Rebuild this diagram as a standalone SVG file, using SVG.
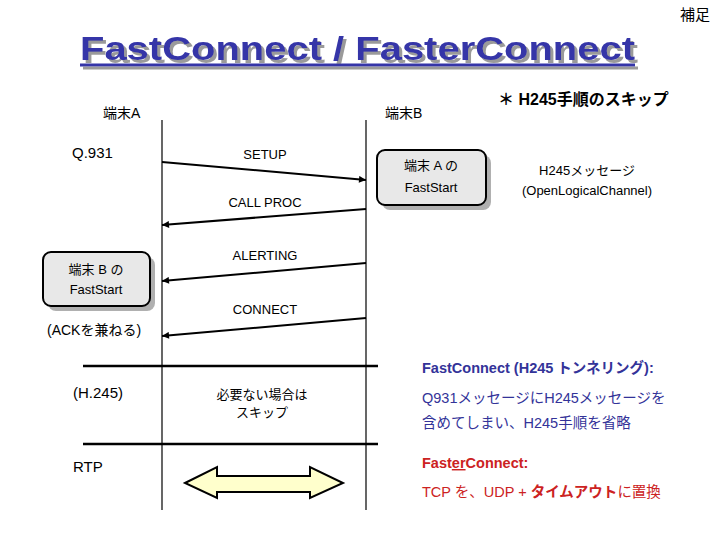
<svg xmlns="http://www.w3.org/2000/svg" width="720" height="540" viewBox="0 0 720 540">
<defs>
<style>
text{font-family:"Liberation Sans","Noto Sans CJK JP",sans-serif;fill:#000}
.t13{font-size:13px}
.t14{font-size:14px}
.t15{font-size:15px}
.c{text-anchor:middle}
.life{stroke:#000;stroke-width:1.2;fill:none}
.msg{stroke:#000;stroke-width:2;fill:none}
.sep{stroke:#000;stroke-width:2.5}
.box{fill:#e8e8e8;stroke:#000;stroke-width:2}
.shadow{fill:#b0b0b0}
.blue{fill:#333399}
.red{fill:#cc2222}
</style>
<filter id="tshadow" x="-5%" y="-20%" width="110%" height="150%">
<feOffset in="SourceAlpha" dx="3" dy="3" result="off"/>
<feFlood flood-color="#9a9a9a"/>
<feComposite in2="off" operator="in" result="sh"/>
<feMerge><feMergeNode in="sh"/><feMergeNode in="SourceGraphic"/></feMerge>
</filter>
<marker id="ah" viewBox="0 0 10 10" refX="10" refY="5" markerWidth="9" markerHeight="7" markerUnits="userSpaceOnUse" orient="auto">
<path d="M0,0 L10,5 L0,10 z" fill="#000"/>
</marker>
</defs>
<rect width="720" height="540" fill="#fff"/>

<g id="title" filter="url(#tshadow)">
<text x="80" y="60" font-size="34" font-weight="bold" textLength="555" lengthAdjust="spacingAndGlyphs" style="fill:#3535a8">FastConnect / FasterConnect</text>
<line x1="80" y1="65" x2="635" y2="65" stroke="#3535a8" stroke-width="3"/>
</g>

<g id="note"><text x="680" y="20" class="t15">補足</text></g>

<g id="lifelines">
<line class="life" x1="162" y1="120" x2="162" y2="510"/>
<line class="life" x1="366" y1="120" x2="366" y2="510"/>
<line class="sep" x1="83" y1="366" x2="378" y2="366"/>
<line class="sep" x1="83" y1="444" x2="378" y2="444"/>
</g>

<g id="terminalA"><text x="103" y="118" class="t14">端末A</text></g>
<g id="terminalB"><text x="385" y="118" class="t14">端末B</text></g>
<g id="q931"><text x="72" y="158" class="t15">Q.931</text></g>
<g id="h245label"><text x="73" y="398" class="t15">(H.245)</text></g>
<g id="rtp"><text x="73" y="472" class="t15">RTP</text></g>

<g id="connectors">
<line class="msg" x1="162" y1="162" x2="366" y2="180" marker-end="url(#ah)"/>
<line class="msg" x1="366" y1="209" x2="162" y2="225" marker-end="url(#ah)"/>
<line class="msg" x1="366" y1="263" x2="162" y2="281" marker-end="url(#ah)"/>
<line class="msg" x1="366" y1="318" x2="162" y2="336" marker-end="url(#ah)"/>
</g>

<g id="labels">
<text x="265" y="159" class="t13 c">SETUP</text>
<text x="265" y="207" class="t13 c">CALL PROC</text>
<text x="265" y="260" class="t13 c">ALERTING</text>
<text x="265" y="314" class="t13 c">CONNECT</text>
<text x="262" y="399" class="t13 c">必要ない場合は</text>
<text x="262" y="417" class="t13 c">スキップ</text>
</g>

<g id="boxA">
<rect class="shadow" x="382" y="155" width="109" height="55" rx="8"/>
<rect class="box" x="377" y="150" width="109" height="55" rx="8"/>
<text x="431" y="170" class="t13 c">端末 A の</text>
<text x="431" y="192" class="t13 c">FastStart</text>
</g>

<g id="boxB">
<rect class="shadow" x="48" y="257" width="107" height="54" rx="8"/>
<rect class="box" x="43" y="252" width="107" height="54" rx="8"/>
<text x="96" y="274" class="t13 c">端末 B の</text>
<text x="96" y="294" class="t13 c">FastStart</text>
</g>

<g id="ack"><text x="47" y="335" class="t14">(ACKを兼ねる)</text></g>

<g id="skip"><text x="498" y="105" font-size="16" font-weight="bold">＊ H245手順のスキップ</text></g>

<g id="h245msg">
<text x="587" y="175" class="t13 c">H245メッセージ</text>
<text x="587" y="195" class="t13 c">(OpenLogicalChannel)</text>
</g>

<g id="rtpArrow">
<polygon points="185,483 217,467 217,476 310,476 310,467 343,483 310,498 310,492 217,492 217,498" fill="#ffffcc" stroke="#000" stroke-width="2" stroke-linejoin="miter"/>
</g>

<g id="fastconnect">
<text x="422" y="373" font-size="14.5" font-weight="bold" class="blue">FastConnect  (H245 トンネリング):</text>
<text x="422" y="403" font-size="14.5" class="blue">Q931メッセージにH245メッセージを</text>
<text x="422" y="428" font-size="14.5" class="blue">含めてしまい、H245手順を省略</text>
</g>

<g id="fasterconnect">
<text x="422" y="468" font-size="14.5" font-weight="bold" class="red">Fast<tspan text-decoration="underline">er</tspan>Connect:</text>
<text x="422" y="497" font-size="14.5" class="red">TCP を、UDP + <tspan font-weight="bold">タイムアウト</tspan>に置換</text>
</g>
</svg>
